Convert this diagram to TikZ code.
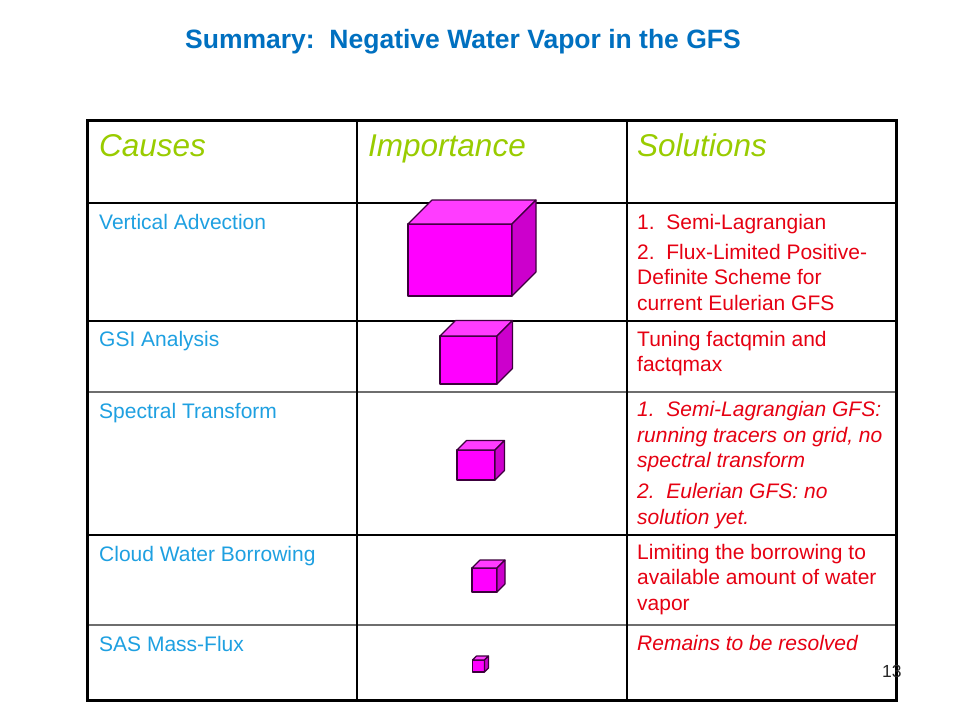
\documentclass[tikz,border=0pt]{standalone}
\usepackage{fontspec}
\setmainfont{Liberation Sans}
\definecolor{titleblue}{RGB}{0,112,192}
\definecolor{causeblue}{RGB}{30,160,225}
\definecolor{headgreen}{RGB}{153,204,0}
\definecolor{solred}{RGB}{230,0,18}
\definecolor{cubefront}{RGB}{255,0,255}
\definecolor{cubetop}{RGB}{255,60,255}
\definecolor{cubeside}{RGB}{204,0,204}
\definecolor{cubeedge}{RGB}{60,0,60}
\definecolor{rulegray}{RGB}{110,110,110}
\newcommand{\magcube}[5]{% x y w h d  (front face top-left, width, height, depth)
  \filldraw[cubeface,fill=cubefront] (#1,#2) rectangle ++(#3,#4);
  \filldraw[cubeface,fill=cubetop] (#1,#2) -- ++(#5,-#5) -- ++(#3,0) -- ++(-#5,#5) -- cycle;
  \filldraw[cubeface,fill=cubeside] (#1+#3,#2) -- ++(#5,-#5) -- ++(0,#4) -- ++(-#5,#5) -- cycle;
}
\tikzset{
  cubeface/.style={draw=cubeedge,line width=1.1pt,line join=round},
  outer/.style={draw=black,line width=3pt},
  inner/.style={draw=black,line width=1.2pt},
  innergray/.style={draw=rulegray,line width=1.5pt},
  headtxt/.style={anchor=base west,inner sep=0pt,text=headgreen,font=\fontsize{31.5}{38}\selectfont\itshape},
  causetxt/.style={anchor=base west,inner sep=0pt,text=causeblue,font=\fontsize{21}{25.5}\selectfont},
  soltxt/.style={anchor=base west,inner sep=0pt,text=solred,align=left,font=\fontsize{21}{25.5}\selectfont},
}
\begin{document}
\begin{tikzpicture}[x=1pt,y=-1pt]
\useasboundingbox[fill=white] (0,0) rectangle (960,720);
% title
\node[anchor=base west,inner sep=0pt,text=titleblue,font=\fontsize{26.5}{30}\selectfont\bfseries] (title) at (185,48) {Summary:\ \ Negative Water Vapor in the GFS};
% table rules
\draw[inner] (87,203) -- (896,203);
\draw[inner] (87,321) -- (896,321);
\draw[innergray] (87,392) -- (896,392);
\draw[inner] (87,535) -- (896,535);
\draw[innergray] (87,625) -- (896,625);
\draw[inner] (357,120) -- (357,700);
\draw[inner] (627,120) -- (627,700);
\draw[outer] (87,120) rectangle (896,700);
% headers
\node[headtxt] (hcause) at (99,156) {Causes};
\node[headtxt] (himp) at (368,156) {Importance};
\node[headtxt] (hsol) at (637,156) {Solutions};
% causes
\node[causetxt] (c1) at (99,229) {Vertical Advection};
\node[causetxt] (c2) at (99,346) {GSI Analysis};
\node[causetxt] (c3) at (99,418) {Spectral Transform};
\node[causetxt] (c4) at (99,561) {Cloud Water Borrowing};
\node[causetxt] (c5) at (99,651) {SAS Mass-Flux};
% solutions (anchored at the baseline of the last line)
\node[soltxt] (s1) at (637,310) {1.\ \ Semi-Lagrangian\\[4.5pt]2.\ \ Flux-Limited Positive-\\Definite Scheme for\\current Eulerian GFS};
\node[soltxt] (s2) at (637,371.5) {Tuning factqmin and\\factqmax};
\node[soltxt,font=\fontsize{21}{25.5}\selectfont\itshape] (s3) at (637,524) {1.\ \ Semi-Lagrangian GFS:\\running tracers on grid, no\\spectral transform\\[5.5pt]2.\ \ Eulerian GFS: no\\solution yet.};
\node[soltxt] (s4) at (637,610) {Limiting the borrowing to\\available amount of water\\vapor};
\node[soltxt,font=\fontsize{21}{25.5}\selectfont\itshape] (s5) at (637,650) {Remains to be resolved};
% importance cubes
\magcube{408}{224}{104}{72}{24}
\magcube{440}{336}{57}{48}{15.5}
\magcube{457}{450}{38}{30}{9.5}
\magcube{472}{568}{25}{24}{8}
\magcube{472.5}{660}{12}{12}{4}
% page number
\node[anchor=base west,inner sep=0pt,text=black!85,font=\fontsize{17.5}{20}\selectfont] (pnum) at (882,677) {13};
\end{tikzpicture}
\end{document}
